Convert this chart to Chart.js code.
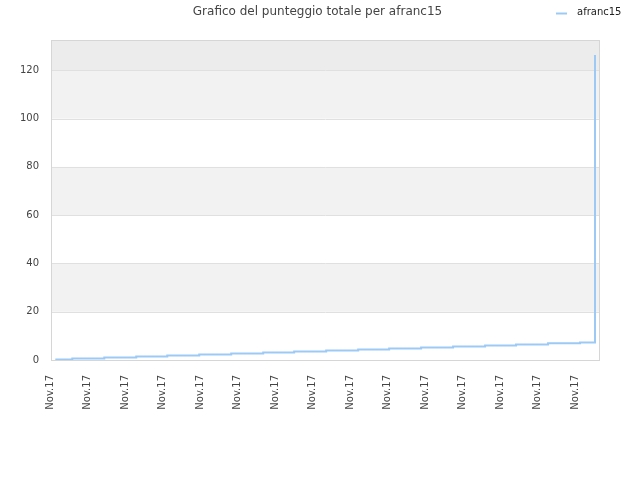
<!DOCTYPE html>
<html>
<head>
<meta charset="utf-8">
<script src="https://cdn.jsdelivr.net/npm/chart.js@4.4.0/dist/chart.umd.min.js"></script>
<style>
  html, body { margin: 0; padding: 0; background: #fff; }
  #wrap { width: 640px; height: 480px; }
</style>
</head>
<body>
<div id="wrap"><canvas id="mycanvas"></canvas></div>
<script>
// time axis in label steps (one "Nov.17" label per step)
var times = [0, 0.453, 1.307, 2.16, 2.987, 3.84, 4.693, 5.547, 6.373, 7.227,
             8.08, 8.907, 9.76, 10.613, 11.467, 12.293, 13.147, 14.0, 14.4];
var scores = [0.2, 0.6, 1.0, 1.45, 1.85, 2.3, 2.7, 3.1, 3.5, 3.9,
              4.35, 4.75, 5.2, 5.6, 6.05, 6.45, 6.9, 7.3, 126.3];
var tickLabels = ["Nov.17", "Nov.17", "Nov.17", "Nov.17", "Nov.17", "Nov.17", "Nov.17", "Nov.17",
                  "Nov.17", "Nov.17", "Nov.17", "Nov.17", "Nov.17", "Nov.17", "Nov.17"];
var seriesName = "afranc15";
var chartTitle = "Grafico del punteggio totale per afranc15";

var points = [];
for (var i in times) {
  points.push({x: times[i], y: scores[i]});
}

// grey bands behind the plot + frame + legend in the title row
var decor = {
  id: 'decor',
  beforeDatasetsDraw: function(chart) {
    var ctx = chart.ctx, a = chart.chartArea, y = chart.scales.y;
    ctx.save();
    var bands = [[20, 40, '#f2f2f2'], [60, 80, '#f2f2f2'], [100, 120, '#f2f2f2'], [120, y.max, '#ececec']];
    bands.forEach(function(b) {
      var top = y.getPixelForValue(b[1]), bot = y.getPixelForValue(b[0]);
      ctx.fillStyle = b[2];
      ctx.fillRect(a.left, top, a.right - a.left, bot - top);
    });
    // grid lines over the bands
    ctx.strokeStyle = '#e0e0e0';
    ctx.lineWidth = 1;
    y.ticks.forEach(function(t) {
      if (t.value === 0) return;
      var py = Math.round(y.getPixelForValue(t.value)) + 0.5;
      ctx.beginPath();
      ctx.moveTo(a.left, py);
      ctx.lineTo(a.right, py);
      ctx.stroke();
    });
    ctx.strokeStyle = '#d6d6d6';
    ctx.strokeRect(Math.round(a.left) + 0.5, Math.round(a.top) + 0.5,
                   Math.round(a.right - a.left) - 1, Math.round(a.bottom - a.top));
    ctx.restore();
  },
  afterDraw: function(chart) {
    var ctx = chart.ctx, ds = chart.data.datasets[0];
    ctx.save();
    ctx.strokeStyle = ds.borderColor;
    ctx.lineWidth = 2;
    ctx.beginPath();
    ctx.moveTo(556, 13.5);
    ctx.lineTo(567, 13.5);
    ctx.stroke();
    ctx.fillStyle = '#222';
    ctx.font = '10px "DejaVu Sans"';
    ctx.textBaseline = 'middle';
    ctx.fillText(ds.label, 577, 12.5);
    ctx.restore();
  }
};

var ctx = document.getElementById('mycanvas');
var chart = new Chart(ctx, {
  type: 'line',
  data: {
    datasets: [{
      label: seriesName,
      data: points,
      stepped: true,
      fill: false,
      borderColor: '#9ccaf5',
      borderWidth: 2,
      pointRadius: 0
    }]
  },
  options: {
    responsive: true,
    maintainAspectRatio: false,
    animation: { duration: 0 },
    layout: { padding: { left: 0, right: 5, top: 0, bottom: 0 } },
    plugins: {
      legend: { display: false },
      tooltip: { enabled: false },
      title: {
        display: true,
        text: chartTitle,
        color: '#444',
        font: { family: 'DejaVu Sans', size: 12, weight: 'normal' },
        padding: { top: 5, bottom: 21 }
      }
    },
    scales: {
      x: {
        type: 'linear',
        min: -0.115,
        max: 14.533,
        grid: { display: false },
        border: { display: false },
        ticks: {
          stepSize: 1,
          includeBounds: false,
          autoSkip: false,
          minRotation: 90,
          maxRotation: 90,
          padding: 7,
          labelOffset: -5,
          color: '#444',
          font: { family: 'DejaVu Sans', size: 10 },
          callback: function(v, idx) { return tickLabels[idx]; }
        },
        afterFit: function(s) { s.height = 120; }
      },
      y: {
        min: 0,
        max: 132.4,
        grid: { display: false, drawTicks: false },
        border: { display: false },
        ticks: {
          stepSize: 20,
          includeBounds: false,
          padding: 12,
          color: '#444',
          font: { family: 'DejaVu Sans', size: 10 }
        },
        afterFit: function(s) { s.width = 51; }
      },
      y2: {
        position: 'right',
        display: true,
        grid: { display: false, drawTicks: false },
        border: { display: false },
        ticks: { display: false },
        afterFit: function(s) { s.width = 35; }
      }
    }
  },
  plugins: [decor]
});
</script>
</body>
</html>
